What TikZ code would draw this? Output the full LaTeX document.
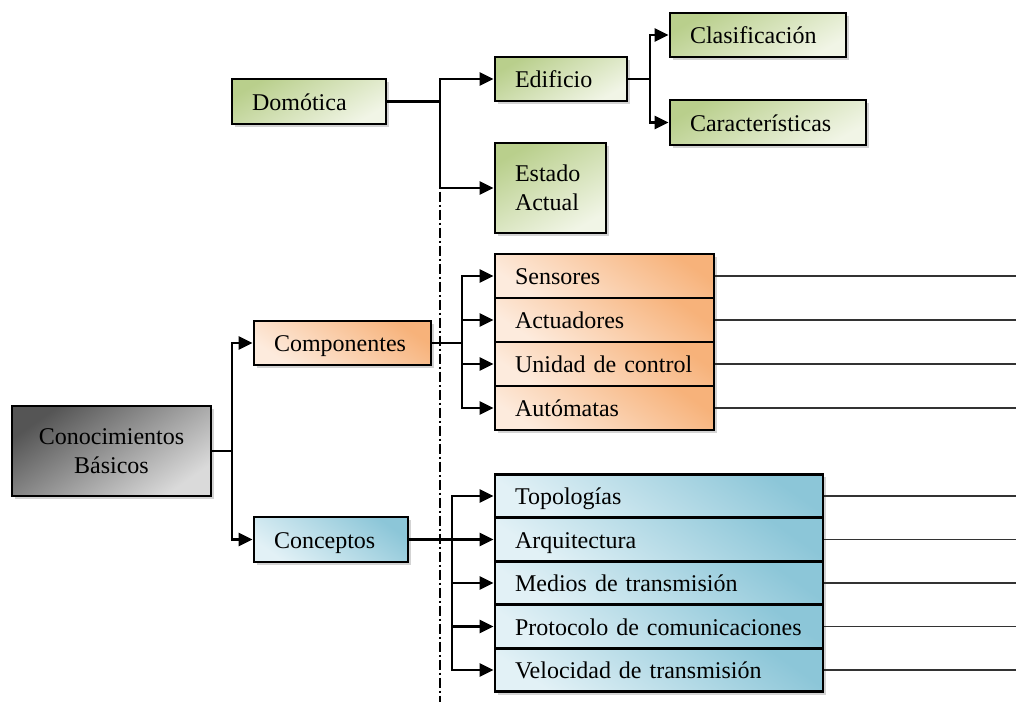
\documentclass[tikz,border=0pt]{standalone}
\usepackage{fontspec}
\setmainfont{Liberation Serif}
\usetikzlibrary{arrows.meta,shadows,calc}

\definecolor{gdark}{HTML}{B9CF8C}
\definecolor{glight}{HTML}{F1F5E6}
\definecolor{odark}{HTML}{F7B27A}
\definecolor{olight}{HTML}{FDEBDD}
\definecolor{bdark}{HTML}{8CC6D8}
\definecolor{blight}{HTML}{E2F1F6}
\definecolor{kdark}{HTML}{555555}
\definecolor{klight}{HTML}{DADADA}

\tikzset{
  box/.style={draw=black, line width=2.8pt, inner xsep=20pt, inner ysep=0pt,
    align=left, font=\fontsize{24}{29}\selectfont,
    drop shadow={opacity=0.35, shadow xshift=3pt, shadow yshift=-3pt}},
  oneline/.style={text height=21pt, text depth=4pt},
  gbox/.style={box, top color=gdark, bottom color=glight, shading angle=30},
  obox/.style={box, oneline, top color=odark, bottom color=olight, shading angle=-35},
  bbox/.style={box, oneline, top color=bdark, bottom color=blight, shading angle=-35},
  kbox/.style={box, top color=kdark, bottom color=klight, shading angle=35, align=center},
  link/.style={line width=2.4pt, draw=black},
  arr/.style={link, -{Triangle[length=14pt,width=13pt]}},
  tail/.style={line width=1.4pt, draw=black!80},
  sep/.style={line width=2.2pt, draw=black, dash pattern=on 10pt off 3pt on 2pt off 3pt}
}

\begin{document}
\begin{tikzpicture}[x=1pt, y=-1pt]
\useasboundingbox (0,0) rectangle (1016,702);

% separator between the two halves
\coordinate (septop) at (440,101.5);
\coordinate (sepbot) at (440,702);
\draw[sep] (septop) -- (sepbot);

% root
\node[kbox, minimum width=199pt, minimum height=90pt, text width=159pt] (con) at (111.5,451) {Conocimientos\\Básicos};

% Domótica branch
\node[gbox, oneline, minimum width=154pt, minimum height=45pt, text width=114pt] (dom) at (309,101.5) {Domótica};
\node[gbox, oneline, minimum width=132pt, minimum height=44pt, text width=92pt] (edi) at (561,79) {Edificio};
\node[gbox, minimum width=111pt, minimum height=90pt, text width=71pt] (est) at (550.5,188) {Estado\\Actual};
\node[gbox, oneline, minimum width=176pt, minimum height=44pt, text width=136pt] (cla) at (758,35) {Clasificación};
\node[gbox, oneline, minimum width=196pt, minimum height=45pt, text width=156pt] (car) at (768,122.5) {Características};

% Componentes branch
\node[obox, minimum width=177pt, minimum height=44pt, text width=137pt] (com) at (342.5,343) {Componentes};
\node[obox, minimum width=219pt, minimum height=44pt, text width=179pt] (sen) at (604.5,276) {Sensores};
\node[obox, minimum width=219pt, minimum height=44pt, text width=179pt] (act) at (604.5,320) {Actuadores};
\node[obox, minimum width=219pt, minimum height=44pt, text width=179pt] (uni) at (604.5,364) {Unidad de control};
\node[obox, minimum width=219pt, minimum height=44pt, text width=179pt] (aut) at (604.5,408) {Autómatas};

% Conceptos branch
\node[bbox, minimum width=154pt, minimum height=45pt, text width=114pt] (cpt) at (331,539.5) {Conceptos};
\node[bbox, minimum width=328pt, minimum height=43.5pt, text width=288pt] (top) at (659,496) {Topologías};
\node[bbox, minimum width=328pt, minimum height=43.5pt, text width=288pt] (arq) at (659,539.5) {Arquitectura};
\node[bbox, minimum width=328pt, minimum height=43.5pt, text width=288pt] (med) at (659,583) {Medios de transmisión};
\node[bbox, minimum width=328pt, minimum height=43.5pt, text width=288pt] (pro) at (659,626.5) {Protocolo de comunicaciones};
\node[bbox, minimum width=328pt, minimum height=43.5pt, text width=288pt] (vel) at (659,670) {Velocidad de transmisión};

% junction points of the elbow connectors
\coordinate (jcon) at (232,451);
\coordinate (jdom) at (440,101.5);
\coordinate (jedi) at (650,79);
\coordinate (jcom) at (462,343);
\coordinate (jcpt) at (452,539.5);
\coordinate (rim) at (1016,0);

% root to its children
\draw[link] (con.east) -- (jcon);
\draw[arr] (jcon) |- (com.west);
\draw[arr] (jcon) |- (cpt.west);

% Domótica connectors
\draw[link] (dom.east) -- (jdom);
\draw[arr] (jdom) |- (edi.west);
\draw[arr] (jdom) |- (est.west);
\draw[link] (edi.east) -- (jedi);
\draw[arr] (jedi) |- (cla.west);
\draw[arr] (jedi) |- (car.west);

% Componentes connectors
\draw[link] (com.east) -- (jcom);
\foreach \n in {sen,act,uni,aut} {
  \draw[arr] (jcom) |- (\n.west);
  \draw[tail] (\n.east) -- (\n.east -| rim);
}

% Conceptos connectors
\draw[link] (cpt.east) -- (jcpt);
\foreach \n in {top,arq,med,pro,vel} {
  \draw[arr] (jcpt) |- (\n.west);
  \draw[tail] (\n.east) -- (\n.east -| rim);
}
\end{tikzpicture}
\end{document}
